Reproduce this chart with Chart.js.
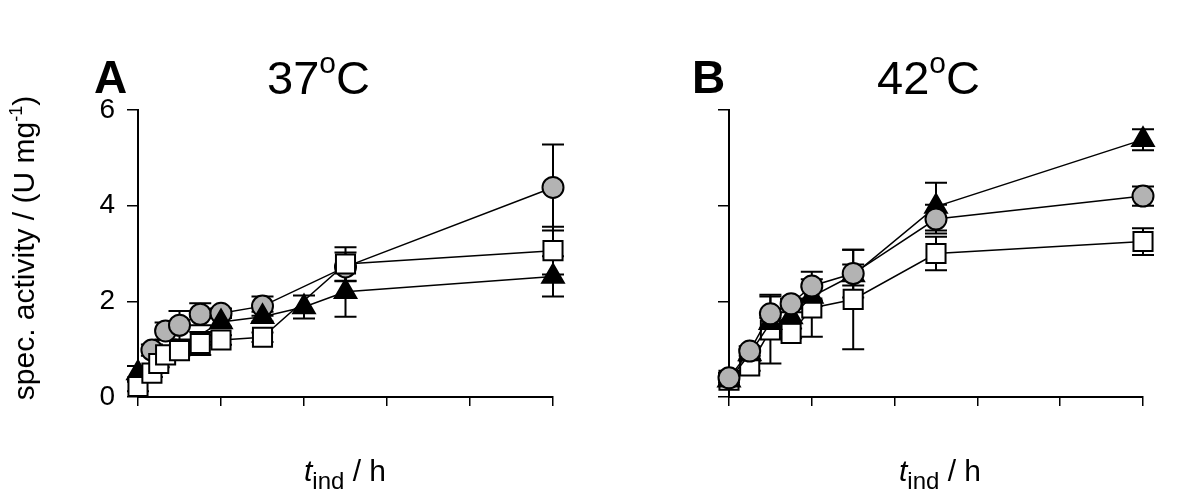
<!DOCTYPE html>
<html>
<head>
<meta charset="utf-8">
<script src="https://cdn.jsdelivr.net/npm/chart.js@4/dist/chart.umd.min.js"></script>
<style>
  body { margin: 0; background: #fff; }
  #wrap { position: relative; width: 1200px; height: 504px; overflow: hidden; font-family: "Liberation Sans", Arial, sans-serif; color: #000; }
  canvas { position: absolute; top: 0; }
  .lbl { position: absolute; white-space: nowrap; line-height: 1; }
  .panel { font-weight: bold; font-size: 46px; top: 54px; }
  .temp { font-size: 47px; top: 54px; }
  .temp sup { font-size: 30px; position: relative; top: -6px; vertical-align: top; }
  .xl { font-size: 30px; top: 456px; width: 200px; text-align: center; }
  .xl sub { font-size: 24px; font-style: normal; vertical-align: -8px; }
  .yl { font-size: 30px; width: 400px; text-align: center; left: -177px; top: 232px; transform: rotate(-90deg); }
  .yl sup { font-size: 18px; vertical-align: 12px; }
</style>
</head>
<body>
<div id="wrap">
  <canvas id="chartA" width="600" height="504" style="left:0"></canvas>
  <canvas id="chartB" width="600" height="504" style="left:600px"></canvas>
  <div class="lbl panel" style="left:94px">A</div>
  <div class="lbl temp" style="left:267px">37<sup>o</sup>C</div>
  <div class="lbl panel" style="left:692px">B</div>
  <div class="lbl temp" style="left:877px">42<sup>o</sup>C</div>
  <div class="lbl xl" style="left:245px"><i>t</i><sub>ind</sub> / h</div>
  <div class="lbl xl" style="left:840px"><i>t</i><sub>ind</sub> / h</div>
  <div class="lbl yl">spec. activity / (U mg<sup>-1</sup>)</div>
</div>
<script>
// panel A, 37 C
const hoursA_sq = [0, 0.67, 1, 1.33, 2, 3, 4, 6, 10, 20];
const sqA = [0.22, 0.50, 0.70, 0.88, 0.97, 1.12, 1.19, 1.25, 2.78, 3.06];
const sqA_err = [0.1, 0.08, 0.08, 0.08, 0.1, 0.24, 0.1, 0.1, 0.35, 0.5];
const hoursA_ci = [0.67, 1.33, 2, 3, 4, 6, 10, 20];
const ciA = [0.98, 1.38, 1.50, 1.73, 1.75, 1.90, 2.72, 4.38];
const ciA_err = [0.12, 0.18, 0.3, 0.23, 0.1, 0.2, 0.3, 0.9];
const hoursA_tr = [0, 4, 6, 8, 10, 20];
const trA = [0.50, 1.57, 1.68, 1.88, 2.20, 2.52];
const trA_err = [0.15, 0.1, 0.1, 0.24, 0.52, 0.42];

// panel B, 42 C
const hoursB = [0, 1, 2, 3, 4, 6, 10, 20];
const sqB = [0.35, 0.65, 1.40, 1.33, 1.86, 2.04, 3.00, 3.25];
const sqB_err = [0.1, 0.1, 0.7, 0.1, 0.6, 1.04, 0.35, 0.28];
const ciB = [0.40, 0.96, 1.74, 1.95, 2.32, 2.58, 3.72, 4.20];
const ciB_err = [0.1, 0.1, 0.4, 0.1, 0.3, 0.5, 0.3, 0.2];
const trB = [0.35, 0.90, 1.55, 1.67, 2.10, 2.55, 3.98, 5.38];
const trB_err = [0.1, 0.1, 0.1, 0.1, 0.2, 0.22, 0.5, 0.22];

const yTicks = [0, 2, 4, 6];

function pts(xs, ys) {
  return xs.map((h, i) => ({x: h, y: ys[i]}));
}

function series(kind, xs, ys, errs) {
  const look = {
    square: {pointStyle: 'rect', pointRadius: 13.5, pointBackgroundColor: '#fff'},
    circle: {pointStyle: 'circle', pointRadius: 10.5, pointBackgroundColor: '#b3b3b3'},
    triangle: {pointStyle: 'triangle', pointRadius: 12.5, pointBackgroundColor: '#000'}
  }[kind];
  return Object.assign({
    data: pts(xs, ys),
    errors: errs,
    borderColor: '#000',
    borderWidth: 1.5,
    pointBorderColor: '#000',
    pointBorderWidth: 2,
    tension: 0,
    fill: false,
    clip: false
  }, look);
}

const errorBars = {
  id: 'errorBars',
  beforeDatasetsDraw(chart) {
    const ctx = chart.ctx, xs = chart.scales.x, ys = chart.scales.y;
    ctx.save();
    ctx.strokeStyle = '#000';
    ctx.lineWidth = 2;
    chart.data.datasets.forEach(ds => {
      ds.data.forEach((p, i) => {
        const e = ds.errors[i];
        if (!e) return;
        const x = xs.getPixelForValue(p.x);
        const lo = ys.getPixelForValue(p.y - e), hi = ys.getPixelForValue(p.y + e);
        ctx.beginPath();
        ctx.moveTo(x, lo); ctx.lineTo(x, hi);
        ctx.moveTo(x - 11, lo); ctx.lineTo(x + 11, lo);
        ctx.moveTo(x - 11, hi); ctx.lineTo(x + 11, hi);
        ctx.stroke();
      });
    });
    ctx.restore();
  }
};

function makeChart(id, datasets, showLabels, yWidth, padRight) {
  return new Chart(document.getElementById(id), {
    type: 'line',
    data: {datasets: datasets},
    plugins: [errorBars],
    options: {
      responsive: false,
      animation: false,
      layout: {padding: {left: 0, top: 110, right: padRight, bottom: 0}},
      plugins: {legend: {display: false}, tooltip: {enabled: false}},
      scales: {
        x: {
          type: 'linear', min: 0, max: 20,
          ticks: {display: false, stepSize: 4},
          grid: {display: true, drawOnChartArea: false, drawTicks: true, tickLength: 9, color: '#000', lineWidth: 1.5},
          border: {display: true, color: '#000', width: 2},
          afterFit(s) { s.height = 107; }
        },
        y: {
          type: 'linear', min: 0, max: 6,
          afterBuildTicks(s) { s.ticks = yTicks.map(v => ({value: v})); },
          ticks: {display: showLabels, color: '#000', padding: 12, font: {family: 'Liberation Sans', size: 28}},
          grid: {display: true, drawOnChartArea: false, drawTicks: true, tickLength: 11, color: '#000', lineWidth: 1.5},
          border: {display: true, color: '#000', width: 2},
          afterFit(s) { s.width = yWidth; }
        }
      }
    }
  });
}

makeChart('chartA', [
  series('square', hoursA_sq, sqA, sqA_err),
  series('triangle', hoursA_tr, trA, trA_err),
  series('circle', hoursA_ci, ciA, ciA_err)
], true, 138, 47);

makeChart('chartB', [
  series('circle', hoursB, ciB, ciB_err),
  series('triangle', hoursB, trB, trB_err),
  series('square', hoursB, sqB, sqB_err)
], false, 129, 57);
</script>
</body>
</html>
